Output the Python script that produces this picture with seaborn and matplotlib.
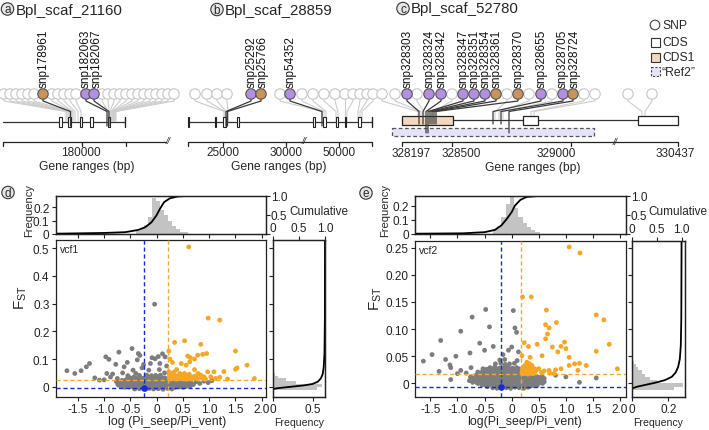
import numpy as np
import pandas as pd
import matplotlib
matplotlib.use("Agg")
import matplotlib.pyplot as plt
from matplotlib.patches import Rectangle, Circle
import seaborn as sns

sns.set_theme(style="ticks")
plt.rcParams['font.family'] = ['Liberation Sans', 'DejaVu Sans']
plt.rcParams.update({
    'axes.linewidth': 0.9, 'axes.edgecolor': '#222222',
    'xtick.major.size': 3, 'ytick.major.size': 3,
    'xtick.major.width': 0.8, 'ytick.major.width': 0.8,
    'xtick.labelsize': 8.5, 'ytick.labelsize': 8.5,
    'xtick.major.pad': 1.5, 'ytick.major.pad': 1.5,
    'xtick.color': '#222222', 'ytick.color': '#222222',
})

# ------------------------------------------------------------------ data
# gene panels (track positions read from the schematic)
a_title = "Bpl_scaf_21160"
a_hi_labels = ["snp178961", "snp182063", "snp182067"]
a_hi_kind = ["O", "P", "P"]
a_hi_head = [43, 86, 94]
a_hi_label_x = [43, 84.5, 95.5]
a_hi_site = [70.5, 107, 109]
a_grey_head = [4, 10, 16, 22, 28, 34, 52, 58, 64, 70, 76, 102, 108, 114, 120,
               126, 132, 138, 144, 150, 156, 162, 168, 174]
a_grey_site = [66, 67, 68, 69, 70, 71, 72, 73, 75, 78, 81, 108, 109, 110, 111,
               112, 112, 113, 113, 114, 114, 115, 115, 116]
a_exon_start = [59.3, 68.3, 80.0, 90.0, 108.3]
a_exon_end = [62.0, 70.7, 81.7, 92.7, 110.0]
a_gene_span = [3, 124.7]
a_ticks = [2.7, 82.3, 125.7]
a_ticklabels = ["", "180000", ""]
a_ticklabel_x = [2.7, 81, 125.7]
a_axis_span = [2.7, 166]
a_break = 168

b_title = "Bpl_scaf_28859"
b_hi_labels = ["snp25292", "snp25766", "snp54352"]
b_hi_kind = ["P", "O", "P"]
b_hi_head = [251, 261, 290]
b_hi_label_x = [250.5, 261.5, 290]
b_hi_site = [226, 227.5, 322]
b_grey_head = [195, 207, 217, 227, 280, 302, 313, 324, 335, 345, 353, 360, 367, 373]
b_grey_site = [224, 225, 226, 228, 322, 324, 326, 336, 338, 345, 347, 358, 360, 362]
b_exon_start = [187.5, 214.5, 223.0, 236.5, 313.0, 323.0, 336.0, 344.5, 358.0]
b_exon_end = [189.0, 216.0, 226.0, 238.7, 315.0, 325.5, 337.5, 346.0, 361.0]
b_gene_span = [188, 371.7]
b_ticks = [188, 223, 286, 339, 372]
b_ticklabels = ["", "25000", "30000", "50000", ""]
b_ticklabel_x = [188, 223, 286, 339, 372]
b_axis_span = [188, 372]
b_break = 304

c_title = "Bpl_scaf_52780"
c_hi_labels = ["snp328303", "snp328324", "snp328342", "snp328347", "snp328351",
               "snp328354", "snp328361", "snp328370", "snp328655", "snp328705",
               "snp328724"]
c_hi_kind = ["P", "P", "P", "P", "P", "P", "O", "O", "P", "P", "O"]
c_hi_head = [407, 429, 441, 463, 474, 485, 496, 518, 541, 563, 573]
c_hi_label_x = [407, 429, 441, 463, 474, 485, 496, 518, 541, 562, 573.5]
c_hi_site = [419, 423, 426, 428, 430, 432, 434, 436, 493, 501, 509]
c_hi_end = [125, 125, 134, 134, 125, 125, 125, 125, 125, 125, 134]
c_grey_head = [382, 395, 417, 452, 507, 529, 552, 584, 595, 628, 652]
c_grey_site = [418, 421, 424, 433, 495, 499, 503, 531, 534, 642, 645]
c_cds1 = [402, 453]
c_cds = [[523, 538], [638, 678]]
c_ref2 = [392, 594]
c_gene_span = [402, 678]
c_ticks = [402, 452, 571, 678]
c_ticklabels = ["328197", "328500", "329000", "330437"]
c_ticklabel_x = [411.5, 461.5, 556.5, 675]
c_axis_span = [402, 678]
c_break = 615

# scatter panel d (vcf1): scattered points
d_grey_x = [-0.04, -0.47, -0.72, -0.97, -1.28, -1.34, -1.44, -1.56, -1.71, -1.18, -1.09,
            -0.91, -0.78, -0.56, -0.35, -0.32, -0.37, -0.25, -0.09, -0.03, 0.03, 0.11,
            0.16, 0.06, -0.12, -0.95, -0.84, -0.65, -0.55, -1.00, -0.75, -0.45, -0.15,
            0.05, 0.15, -0.62, -0.28, 0.19, 0.75, 0.82, 0.90, 0.98, 1.05, -0.88, -0.40]
d_grey_y = [0.298, 0.138, 0.125, 0.108, 0.084, 0.072, 0.058, 0.048, 0.058, 0.032, 0.024,
            0.099, 0.081, 0.088, 0.120, 0.113, 0.097, 0.080, 0.105, 0.101, 0.109, 0.119,
            0.108, 0.084, 0.084, 0.048, 0.046, 0.050, 0.040, 0.025, 0.030, 0.060, 0.060,
            0.062, 0.050, 0.072, 0.068, 0.075, 0.018, 0.012, 0.020, 0.015, 0.022, 0.035, 0.048]
# dense core of the grey cloud
d_core_x = [-0.42, -0.33, -0.21, -0.14, -0.06, 0.03, 0.12, 0.21, 0.29,
            -0.61, -0.52, -0.44, -0.37, -0.29, -0.22, -0.16, -0.08, -0.01, 0.06, 0.13,
            0.20, 0.27, 0.35, 0.43, 0.50,
            -0.66, -0.55, -0.47, -0.39, -0.31, -0.24, -0.17, -0.10, -0.03, 0.04, 0.10,
            0.18, 0.25, 0.33, 0.41, 0.48, 0.56, 0.64,
            -0.72, -0.64, -0.57, -0.49, -0.41, -0.34, -0.26, -0.19, -0.11, -0.04, 0.04,
            0.11, 0.17, 0.24, 0.31, 0.38, 0.46, 0.53, 0.61,
            -0.74, -0.64, -0.56, -0.49, -0.42, -0.34, -0.27, -0.19, -0.12, -0.04, 0.04,
            0.12, 0.19, 0.26, 0.33, 0.40, 0.48, 0.55, 0.62, 0.70,
            -0.68, -0.60, -0.53, -0.45, -0.38, -0.30, -0.23, -0.15, -0.07, 0.00, 0.08,
            0.15, 0.22, 0.29, 0.36, 0.44, 0.51, 0.58, 0.66,
            -0.71, -0.59, -0.51, -0.43, -0.36, -0.28, -0.21, -0.13, -0.06, 0.02, 0.09,
            0.16, 0.24, 0.31, 0.38, 0.45, 0.53, 0.60,
            -0.77, -0.62, -0.55, -0.47, -0.40, -0.32, -0.25, -0.18, -0.10, -0.03, 0.05,
            0.12, 0.19, 0.27, 0.34, 0.41, 0.49, 0.56, 0.64,
            -0.66, -0.54, -0.46, -0.38, -0.31, -0.23, -0.15, -0.08, 0.00, 0.07, 0.14, 0.20,
            -0.58, -0.50, -0.43, -0.35, -0.27, -0.20, -0.12, -0.05, 0.02, 0.09, 0.16,
            -0.48, -0.39, -0.25, -0.17, -0.09, -0.03, 0.05, 0.12, 0.19,
            -0.52, -0.44, -0.30, -0.22, -0.14, -0.07, 0.01, 0.08, 0.15,
            -0.33, -0.19, -0.10, -0.02, 0.07]
d_core_y = [-0.008, -0.007, -0.009, -0.006, -0.008, -0.007, -0.009, -0.006, -0.008,
            -0.002, -0.001, -0.003, -0.002, 0.000, -0.002, -0.001, -0.003, -0.002, 0.000, -0.002,
            -0.001, -0.003, -0.002, -0.001, -0.002,
            0.002, 0.001, 0.003, 0.002, 0.001, 0.003, 0.002, 0.001, 0.003, 0.002, 0.001,
            0.003, 0.002, 0.001, 0.003, 0.002, 0.001, 0.003,
            0.005, 0.006, 0.004, 0.005, 0.006, 0.004, 0.005, 0.006, 0.004, 0.005, 0.006,
            0.004, 0.005, 0.006, 0.004, 0.005, 0.006, 0.004, 0.005,
            0.009, 0.008, 0.010, 0.009, 0.008, 0.010, 0.009, 0.008, 0.010, 0.009, 0.008,
            0.010, 0.009, 0.008, 0.010, 0.009, 0.008, 0.010, 0.009, 0.008,
            0.012, 0.011, 0.013, 0.012, 0.011, 0.013, 0.012, 0.011, 0.013, 0.012, 0.011,
            0.013, 0.012, 0.011, 0.013, 0.012, 0.011, 0.013, 0.012,
            0.016, 0.015, 0.017, 0.016, 0.015, 0.017, 0.016, 0.015, 0.017, 0.016, 0.015,
            0.017, 0.016, 0.015, 0.017, 0.016, 0.015, 0.017,
            0.019, 0.020, 0.018, 0.019, 0.020, 0.018, 0.019, 0.020, 0.018, 0.019, 0.020,
            0.018, 0.019, 0.020, 0.018, 0.019, 0.020, 0.018, 0.019,
            0.023, 0.022, 0.024, 0.023, 0.022, 0.024, 0.023, 0.022, 0.024, 0.023, 0.022, 0.024,
            0.026, 0.027, 0.025, 0.026, 0.027, 0.025, 0.026, 0.027, 0.025, 0.026, 0.027,
            0.030, 0.031, 0.029, 0.030, 0.031, 0.029, 0.030, 0.031, 0.029,
            0.033, 0.034, 0.032, 0.033, 0.034, 0.032, 0.033, 0.034, 0.032,
            0.041, 0.042, 0.040, 0.041, 0.042]
d_orange_x = [0.61, 0.98, 1.20, 0.53, 0.34, 0.23, 0.84, 1.50, 0.95, 0.875, 0.78, 0.59, 0.64,
              0.63, 0.72, 1.72, 1.50, 1.53, 0.97, 1.09, 1.28, 1.03, 1.86, 0.56, 0.47, 0.38,
              0.44, 0.53, 0.72, 0.79, 0.84, 0.90, 0.78, 0.69, 0.25, 0.30,
              0.24, 0.27, 0.31, 0.35, 0.29, 0.40, 0.45, 0.50, 0.55, 0.60, 0.65, 0.24, 0.33,
              0.38, 0.48, 0.58, 0.23, 0.42, 0.36, 0.26, 0.52, 0.62, 0.70, 0.74, 0.86, 0.93,
              1.12, 1.20, 1.35, 0.28, 0.33, 0.39, 0.44, 0.49, 0.54, 0.57, 0.63, 0.67, 0.25,
              0.31, 0.46]
d_orange_y = [0.505, 0.248, 0.241, 0.166, 0.160, 0.129, 0.153, 0.129, 0.120, 0.117, 0.114,
              0.111, 0.105, 0.090, 0.100, 0.078, 0.063, 0.068, 0.054, 0.054, 0.055, 0.036,
              0.030, 0.078, 0.084, 0.062, 0.048, 0.048, 0.062, 0.048, 0.042, 0.036, 0.030,
              0.036, 0.100, 0.088,
              0.030, 0.036, 0.031, 0.040, 0.046, 0.033, 0.029, 0.037, 0.031, 0.034, 0.029,
              0.043, 0.053, 0.028, 0.043, 0.041, 0.055, 0.038, 0.034, 0.028, 0.029, 0.045,
              0.030, 0.038, 0.032, 0.028, 0.030, 0.034, 0.028, 0.033, 0.029, 0.036, 0.042,
              0.032, 0.038, 0.027, 0.036, 0.033, 0.048, 0.040, 0.035]
d_vline = [-0.25, 0.22]
d_hline = [-0.005, 0.026]

# scatter panel e (vcf2)
e_grey_x = [-0.48, 0.03, -0.73, -0.41, -0.94, 0.06, 0.09, -1.31, -0.59, -1.47, -1.63, -1.22,
            -1.03, -0.77, -0.50, -0.34, -0.06, 0.00, 0.125, -0.16, -1.14, -1.125, -1.34,
            -1.125, -0.94, -0.84, -0.75, -0.625, -0.53, 1.56, 1.25, 1.00, 0.81, -1.00]
e_grey_y = [0.136, 0.134, 0.122, 0.104, 0.096, 0.102, 0.094, 0.079, 0.074, 0.053, 0.041, 0.044,
            0.050, 0.056, 0.061, 0.068, 0.061, 0.067, 0.058, 0.053, 0.034, 0.029, 0.022,
            0.007, 0.024, 0.019, 0.029, 0.021, 0.027, 0.010, 0.002, 0.012, 0.015, 0.018]
e_core_x = [-0.35, -0.27, -0.19, -0.10, -0.02, 0.06, 0.14, 0.22, 0.30,
            -0.45, -0.31, -0.23, -0.14, -0.06, 0.02, 0.10, 0.18, 0.26, 0.35,
            -0.55, -0.47, -0.40, -0.32, -0.24, -0.16, -0.09, -0.01, 0.07, 0.15, 0.23, 0.31,
            0.39, 0.47,
            -0.62, -0.52, -0.44, -0.36, -0.28, -0.20, -0.13, -0.05, 0.03, 0.11, 0.17, 0.25,
            0.33, 0.41, 0.49, 0.57,
            -0.72, -0.64, -0.56, -0.48, -0.41, -0.33, -0.25, -0.18, -0.10, -0.02, 0.05, 0.13,
            0.21, 0.29, 0.37, 0.45, 0.53, 0.60,
            -0.78, -0.64, -0.56, -0.48, -0.40, -0.32, -0.25, -0.17, -0.09, -0.01, 0.06, 0.14,
            0.22, 0.30, 0.38, 0.46, 0.54,
            -0.68, -0.60, -0.52, -0.44, -0.36, -0.29, -0.21, -0.13, -0.05, 0.02, 0.10, 0.18,
            0.26, 0.34, 0.42, 0.50, 0.58,
            -0.72, -0.59, -0.51, -0.43, -0.35, -0.27, -0.20, -0.12, -0.04, 0.04, 0.12, 0.20,
            0.28, 0.36, 0.44, 0.52, 0.60,
            -0.76, -0.63, -0.55, -0.47, -0.39, -0.31, -0.24, -0.16, -0.08, 0.00, 0.08, 0.16,
            0.24, 0.32, 0.40, 0.48, 0.56,
            -0.66, -0.55, -0.46, -0.38, -0.30, -0.22, -0.15, -0.07, 0.01, 0.09, 0.16,
            -0.60, -0.50, -0.42, -0.34, -0.26, -0.19, -0.11, -0.03, 0.05, 0.12,
            -0.56, -0.48, -0.40, -0.32, -0.24, -0.17, -0.09, -0.01, 0.07, 0.14,
            -0.52, -0.44, -0.36, -0.28, -0.21, -0.13, -0.05, 0.03, 0.10,
            -0.46, -0.35, -0.27, -0.19, -0.11, -0.03, 0.05, 0.13,
            -0.40, -0.31, -0.23, -0.15, -0.07, 0.01, 0.09,
            -0.30, -0.20, -0.12, -0.04, 0.05,
            -0.22, -0.13, 0.10]
e_core_y = [-0.008, -0.009, -0.007, -0.008, -0.009, -0.007, -0.008, -0.009, -0.007,
            -0.006, -0.005, -0.006, -0.005, -0.006, -0.005, -0.006, -0.005, -0.006, -0.005,
            -0.003, -0.004, -0.002, -0.003, -0.004, -0.002, -0.003, -0.004, -0.002, -0.003,
            -0.004, -0.002, -0.003, -0.004,
            0.000, -0.001, 0.001, 0.000, -0.001, 0.001, 0.000, -0.001, 0.001, 0.000, -0.001,
            0.001, 0.000, -0.001, 0.001, 0.000,
            0.002, 0.001, 0.003, 0.002, 0.001, 0.003, 0.002, 0.001, 0.003, 0.002, 0.001, 0.003,
            0.002, 0.001, 0.003, 0.002, 0.001, 0.003,
            0.005, 0.004, 0.006, 0.005, 0.004, 0.006, 0.005, 0.004, 0.006, 0.005, 0.004, 0.006,
            0.005, 0.004, 0.006, 0.005, 0.004,
            0.007, 0.008, 0.006, 0.007, 0.008, 0.006, 0.007, 0.008, 0.006, 0.007, 0.008, 0.006,
            0.007, 0.008, 0.006, 0.007, 0.008,
            0.010, 0.009, 0.011, 0.010, 0.009, 0.011, 0.010, 0.009, 0.011, 0.010, 0.009, 0.011,
            0.010, 0.009, 0.011, 0.010, 0.009,
            0.012, 0.013, 0.011, 0.012, 0.013, 0.011, 0.012, 0.013, 0.011, 0.012, 0.013, 0.011,
            0.012, 0.013, 0.011, 0.012, 0.013,
            0.015, 0.014, 0.016, 0.015, 0.014, 0.016, 0.015, 0.014, 0.016, 0.015, 0.014,
            0.017, 0.018, 0.016, 0.017, 0.018, 0.016, 0.017, 0.018, 0.016, 0.017,
            0.020, 0.021, 0.019, 0.020, 0.021, 0.019, 0.020, 0.021, 0.019, 0.020,
            0.023, 0.024, 0.022, 0.023, 0.024, 0.022, 0.023, 0.024, 0.022,
            0.026, 0.027, 0.025, 0.026, 0.027, 0.025, 0.026, 0.027,
            0.029, 0.030, 0.028, 0.029, 0.030, 0.028, 0.029,
            0.036, 0.037, 0.035, 0.036, 0.037,
            0.043, 0.044, 0.042]
e_orange_x = [1.06, 1.26, 0.20, 0.36, 0.64, 1.56, 1.70, 0.625, 0.69, 0.825, 0.66, 0.625,
              0.975, 1.80, 0.23, 0.47, 0.31, 0.75, 0.91, 1.00, 1.56, 0.85, 0.56, 0.34, 1.06,
              0.19, 1.16, 1.95, 1.22, 1.06, 0.81, 0.91, 0.69, 0.50, 0.375, 0.28, 1.375, 1.25,
              0.19, 0.22, 0.25, 0.28, 0.21, 0.31, 0.34, 0.24, 0.37, 0.40, 0.30, 0.27, 0.43,
              0.20, 0.33, 0.46, 0.55, 0.60, 0.70, 0.78, 0.21, 0.24, 0.27, 0.30, 0.33, 0.36,
              0.39, 0.23, 0.26, 0.42]
e_orange_y = [0.251, 0.240, 0.159, 0.159, 0.135, 0.126, 0.117, 0.108, 0.102, 0.112, 0.091,
              0.082, 0.076, 0.072, 0.075, 0.072, 0.068, 0.067, 0.068, 0.064, 0.059, 0.058,
              0.051, 0.048, 0.048, 0.051, 0.036, 0.027, 0.024, 0.033, 0.025, 0.027, 0.024,
              0.027, 0.033, 0.039, 0.033, 0.037,
              0.020, 0.024, 0.019, 0.027, 0.030, 0.021, 0.025, 0.033, 0.019, 0.023, 0.031,
              0.018, 0.021, 0.026, 0.036, 0.025, 0.020, 0.023, 0.019, 0.018, 0.018, 0.022,
              0.029, 0.017, 0.020, 0.028, 0.018, 0.028, 0.025, 0.027]
e_vline = [-0.19, 0.175]
e_hline = [-0.0067, 0.0165]

# marginal histograms (bin edges, frequencies) and cumulative curves
d_top_edges = [-0.399, -0.323, -0.247, -0.171, -0.095, -0.019, 0.057, 0.133, 0.209, 0.285,
               0.361, 0.437, 0.513, 0.589]
d_top_freq = [0.02, 0.04, 0.065, 0.125, 0.27, 0.25, 0.18, 0.14, 0.10, 0.06, 0.035, 0.015, 0.01]
d_top_cum_x = [-1.93, -0.99, -0.60, -0.35, -0.22, -0.10, -0.005, 0.06, 0.14, 0.25, 0.40, 0.65, 2.08]
d_top_cum_y = [0.0, 0.02, 0.04, 0.10, 0.17, 0.30, 0.48, 0.65, 0.83, 0.93, 0.98, 1.0, 1.0]
d_right_edges = [-0.010, 0.000, 0.010, 0.020, 0.030, 0.040, 0.050, 0.060, 0.070]
d_right_freq = [0.55, 0.61, 0.29, 0.17, 0.06, 0.03, 0.015, 0.01]
d_right_cum_fst = [-0.008, -0.005, 0.0, 0.005, 0.010, 0.018, 0.030, 0.045, 0.070, 0.120, 0.250, 0.530]
d_right_cum = [0.0, 0.10, 0.35, 0.60, 0.76, 0.86, 0.92, 0.955, 0.975, 0.99, 0.998, 1.0]

e_top_edges = [-0.345, -0.267, -0.189, -0.111, -0.033, 0.045, 0.123, 0.201, 0.279, 0.357,
               0.435, 0.513]
e_top_freq = [0.035, 0.055, 0.12, 0.21, 0.26, 0.18, 0.12, 0.075, 0.05, 0.025, 0.01]
e_top_cum_x = [-1.78, -0.90, -0.50, -0.31, -0.19, -0.09, 0.0, 0.06, 0.16, 0.28, 0.56, 2.10]
e_top_cum_y = [0.0, 0.01, 0.04, 0.10, 0.22, 0.39, 0.57, 0.74, 0.89, 0.97, 1.0, 1.0]
e_right_edges = [-0.012, -0.006, 0.0, 0.006, 0.012, 0.018, 0.024, 0.030, 0.036, 0.042, 0.048]
e_right_freq = [0.23, 0.28, 0.14, 0.10, 0.072, 0.055, 0.033, 0.02, 0.012, 0.006]
e_right_cum_fst = [-0.009, -0.006, -0.002, 0.002, 0.006, 0.012, 0.020, 0.030, 0.045, 0.070, 0.120, 0.260]
e_right_cum = [0.0, 0.10, 0.30, 0.50, 0.66, 0.80, 0.88, 0.93, 0.965, 0.985, 0.995, 1.0]

# ------------------------------------------------------------------ figure
W, H = 709, 431
fig = plt.figure(figsize=(W / 100, H / 100), dpi=100)
bg = fig.add_axes([0, 0, 1, 1], zorder=0)
bg.set_xlim(0, W)
bg.set_ylim(H, 0)
bg.axis('off')

P_COL = '#b38fe4'
O_COL = '#c9935e'
GREY_EDGE = '#c6c6c6'
DARK = '#3a3a3a'
HEAD_Y, HEAD_R = 95, 5.2


def panel_badge(x, y, letter):
    bg.add_patch(Circle((x, y), 6.2, facecolor='#e6e6e6', edgecolor='#333333', lw=0.8, zorder=5))
    bg.text(x, y + 0.3, letter, ha='center', va='center', fontsize=8.5, zorder=6)


def gene_panel(grey_head, grey_site, hi_head, hi_site, hi_kind, hi_labels, hi_label_x,
               gene_y, hi_end=None):
    for hx, sx in zip(grey_head, grey_site):
        bg.plot([hx, hx, sx, sx], [HEAD_Y + HEAD_R, HEAD_Y + 7, 112.5, gene_y - 1],
                color='#cdcdcd', lw=0.8, zorder=1)
    for hx in grey_head:
        bg.add_patch(Circle((hx, HEAD_Y), HEAD_R, facecolor='white', edgecolor=GREY_EDGE,
                            lw=0.8, zorder=2))
    if hi_end is None:
        hi_end = [gene_y + 4] * len(hi_head)
    for hx, sx, en in zip(hi_head, hi_site, hi_end):
        bg.plot([hx, hx, sx, sx], [HEAD_Y + HEAD_R, HEAD_Y + 7, 112.5, en],
                color=DARK, lw=0.9, zorder=6)
    for hx, k in zip(hi_head, hi_kind):
        bg.add_patch(Circle((hx, HEAD_Y), HEAD_R, facecolor=P_COL if k == 'P' else O_COL,
                            edgecolor='#555555', lw=0.8, zorder=7))
    for lx, lab in zip(hi_label_x, hi_labels):
        bg.text(lx + 0.8, HEAD_Y - 6.5, lab, rotation=90, ha='center', va='bottom',
                fontsize=8.5, color='#111111', zorder=7)


def scale_bar(span, ticks, labels, label_x, brk, y, title_x):
    bg.plot(span, [y, y], color='#222222', lw=0.9)
    for t in ticks:
        bg.plot([t, t], [y, y + 4], color='#222222', lw=0.9)
    for lx, lab in zip(label_x, labels):
        if lab:
            bg.text(lx, y + 11, lab, ha='center', va='center', fontsize=8.5)
    bg.text(brk, y - 0.5, '//', ha='center', va='center', fontsize=6.5, style='italic')
    bg.text(title_x, y + 25, 'Gene ranges (bp)', ha='center', va='center', fontsize=8.7)


def exons(starts, ends, gene_y, cap_x):
    for s, e in zip(starts, ends):
        bg.add_patch(Rectangle((s, gene_y - 5), e - s, 10, facecolor='white',
                               edgecolor='#222222', lw=0.8, zorder=4))
    bg.plot([cap_x, cap_x], [gene_y - 5, gene_y + 5], color='#222222', lw=1.0, zorder=4)


# panel a
panel_badge(7.5, 10, 'a')
bg.text(15.5, 10.5, a_title, ha='left', va='center', fontsize=10.8)
gene_panel(a_grey_head, a_grey_site, a_hi_head, a_hi_site, a_hi_kind, a_hi_labels,
           a_hi_label_x, 123)
bg.plot(a_gene_span, [123, 123], color='#333333', lw=0.9, zorder=3)
exons(a_exon_start, a_exon_end, 123, a_gene_span[1])
scale_bar(a_axis_span, a_ticks, a_ticklabels, a_ticklabel_x, a_break, 142.5, 87)

# panel b
panel_badge(217, 10.5, 'b')
bg.text(225, 10.5, b_title, ha='left', va='center', fontsize=10.8)
gene_panel(b_grey_head, b_grey_site, b_hi_head, b_hi_site, b_hi_kind, b_hi_labels,
           b_hi_label_x, 123)
bg.plot(b_gene_span, [123, 123], color='#333333', lw=0.9, zorder=3)
exons(b_exon_start, b_exon_end, 123, b_gene_span[1])
scale_bar(b_axis_span, b_ticks, b_ticklabels, b_ticklabel_x, b_break, 142.5, 279)

# panel c
panel_badge(403, 9.5, 'c')
bg.text(411, 9.5, c_title, ha='left', va='center', fontsize=10.8)
gene_panel(c_grey_head, c_grey_site, c_hi_head, c_hi_site, c_hi_kind, c_hi_labels,
           c_hi_label_x, 121, hi_end=c_hi_end)
bg.plot(c_gene_span, [121, 121], color='#333333', lw=0.9, zorder=3)
bg.add_patch(Rectangle((c_cds1[0], 116.5), c_cds1[1] - c_cds1[0], 9, facecolor='#f4d8bd',
                       edgecolor='#222222', lw=0.9, zorder=4))
for s, e in c_cds:
    bg.add_patch(Rectangle((s, 116.5), e - s, 9, facecolor='white', edgecolor='#222222',
                           lw=0.9, zorder=4))
bg.add_patch(Rectangle((c_ref2[0], 128.5), c_ref2[1] - c_ref2[0], 8.5, facecolor='#e4e3f8',
                       edgecolor='#555555', lw=0.9, ls=(0, (3, 2)), zorder=3))
scale_bar(c_axis_span, c_ticks, c_ticklabels, c_ticklabel_x, c_break, 143.3, 533)

# legend of panel c
bg.add_patch(Circle((655, 26), 4.8, facecolor='white', edgecolor='#444444', lw=0.8))
bg.add_patch(Rectangle((650.5, 39), 9, 9, facecolor='white', edgecolor='#333333', lw=0.8))
bg.add_patch(Rectangle((650.5, 53.5), 9, 9, facecolor='#f4d8bd', edgecolor='#333333', lw=0.8))
bg.add_patch(Rectangle((650.5, 68), 9, 9, facecolor='#e4e3f8', edgecolor='#444444', lw=0.8,
                       ls=(0, (2, 1.5))))
for yy, lab in zip([26, 43.5, 58, 72.5], ['SNP', 'CDS', 'CDS1', '\u201cRef2\u201d']):
    bg.text(662, yy, lab, ha='left', va='center', fontsize=8.7)


# ------------------------------------------------------------------ scatter panels
def box(x0, y0, x1, y1):
    return [x0 / W, 1 - y1 / H, (x1 - x0) / W, (y1 - y0) / H]


def scatter_panel(main_box, top_box, right_box, gx, gy, ox, oy, vline, hline, xlim, ylim,
                  yticks, yticklabels, tag, top_edges, top_freq, top_cx, top_cy, top_ylim,
                  r_edges, r_freq, r_fst, r_cum, r_xlim, r_xticks, r_xticklabels, cum_xlim):
    ax = fig.add_axes(box(*main_box))
    df = pd.DataFrame({'x': list(gx) + list(ox), 'y': list(gy) + list(oy),
                       'g': ['low'] * len(gx) + ['high'] * len(ox)})
    sns.scatterplot(data=df, x='x', y='y', hue='g',
                    palette={'low': '#7d7d7d', 'high': '#f6a623'},
                    s=12, linewidth=0, legend=False, ax=ax, zorder=2)
    ax.axvline(vline[0], color='#1a2ad6', lw=1.0, ls=(0, (3, 2)), zorder=3)
    ax.axhline(hline[0], color='#1a2ad6', lw=1.0, ls=(0, (3, 2)), zorder=3)
    ax.axvline(vline[1], color='#f2a93b', lw=1.0, ls=(0, (3, 2)), zorder=3)
    ax.axhline(hline[1], color='#f2a93b', lw=1.0, ls=(0, (3, 2)), zorder=3)
    ax.scatter([vline[0]], [hline[0]], s=14, color='#1a2ad6', zorder=4)
    ax.set_xlim(*xlim)
    ax.set_ylim(*ylim)
    xt = [-1.5, -1.0, -0.5, 0, 0.5, 1.0, 1.5, 2.0]
    ax.set_xticks(xt)
    ax.set_xticklabels(['-1.5', '-1.0', '-0.5', '0', '0.5', '1.0', '1.5', '2.0'])
    ax.set_yticks(yticks)
    ax.set_yticklabels(yticklabels)
    ax.set_xlabel('')
    ax.set_ylabel('')
    ax.text(0.02, 0.975, tag, transform=ax.transAxes, ha='left', va='top', fontsize=7.5)

    axt = fig.add_axes(box(*top_box))
    centers = [(top_edges[i] + top_edges[i + 1]) / 2 for i in range(len(top_freq))]
    sns.histplot(x=centers, weights=top_freq, bins=top_edges, ax=axt, color='#c3c3c3',
                 alpha=1, linewidth=0)
    axt.set_xlim(*xlim)
    axt.set_ylim(*top_ylim)
    axt.set_xticks(xt)
    axt.set_xticklabels([])
    axt.set_yticks([0, 0.1, 0.2])
    axt.set_yticklabels(['0', '0.1', '0.2'])
    axt.set_ylabel('')
    axt2 = axt.twinx()
    sns.lineplot(x=top_cx, y=top_cy, ax=axt2, color='black', lw=1.3)
    axt2.set_ylim(0, 1.0)
    axt2.set_yticks([0, 0.5, 1.0])
    axt2.set_yticklabels(['', '0.5', '1.0'])
    axt2.tick_params(axis='y', pad=0.8)
    axt2.set_ylabel('')
    for s in ['top', 'right']:
        axt.spines[s].set_visible(True)
        axt2.spines[s].set_visible(True)

    axr = fig.add_axes(box(*right_box))
    rc = [(r_edges[i] + r_edges[i + 1]) / 2 for i in range(len(r_freq))]
    sns.histplot(y=rc, weights=r_freq, bins=r_edges, ax=axr, color='#c3c3c3', alpha=1,
                 linewidth=0)
    axr.set_ylim(*ylim)
    axr.set_xlim(*r_xlim)
    axr.set_yticks(yticks)
    axr.set_yticklabels([])
    axr.set_xticks(r_xticks)
    axr.set_xticklabels(r_xticklabels)
    axr.set_xlabel('')
    axr.set_ylabel('')
    axr2 = axr.twiny()
    sns.lineplot(x=r_cum, y=r_fst, ax=axr2, color='black', lw=1.3, sort=False,
                 estimator=None)
    axr2.set_xlim(*cum_xlim)
    axr2.set_xticks([0, 0.5, 1.0])
    axr2.set_xticklabels(['0', '0.5', '1.0'])
    axr2.set_xlabel('')
    axr2.set_ylabel('')
    axr2.set_ylim(*ylim)
    for a in (ax, axr, axr2):
        for s in a.spines.values():
            s.set_visible(True)
    return ax


scatter_panel((55.7, 241, 265.7, 398), (55.7, 196.7, 265.7, 234.7), (272.7, 241, 325, 398),
              d_grey_x + d_core_x, d_grey_y + d_core_y, d_orange_x, d_orange_y,
              d_vline, d_hline, (-1.924, 2.076), (-0.037, 0.530),
              [0, 0.1, 0.2, 0.3, 0.4, 0.5], ['0', '0.1', '0.2', '0.3', '0.4', '0.5'], 'vcf1',
              d_top_edges, d_top_freq, d_top_cum_x, d_top_cum_y, (0, 0.288),
              d_right_edges, d_right_freq, d_right_cum_fst, d_right_cum,
              (0, 0.649), [0, 0.5], ['0', '0.5'], (0, 1.0))

scatter_panel((415, 242, 625.7, 398), (415, 196.7, 625.7, 234.7), (632.3, 242, 685, 398),
              e_grey_x + e_core_x, e_grey_y + e_core_y, e_orange_x, e_orange_y,
              e_vline, e_hline, (-1.784, 2.103), (-0.025, 0.262),
              [0, 0.05, 0.10, 0.15, 0.20, 0.25], ['0', '0.05', '0.10', '0.15', '0.20', '0.25'],
              'vcf2',
              e_top_edges, e_top_freq, e_top_cum_x, e_top_cum_y, (0, 0.27),
              e_right_edges, e_right_freq, e_right_cum_fst, e_right_cum,
              (0, 0.293), [0, 0.2], ['0', '0.2'], (0, 1.07))

# axis titles and panel badges for d / e
panel_badge(8, 193.5, 'd')
panel_badge(366, 194, 'e')
for x0, lab in [(29, 'Frequency'), (385, 'Frequency')]:
    bg.text(x0, 211, lab, rotation=90, ha='center', va='center', fontsize=8)
bg.text(289, 212, 'Cumulative', ha='left', va='center', fontsize=8.5)
bg.text(648, 212, 'Cumulative', ha='left', va='center', fontsize=8.5)
bg.text(21, 298, r'F$_{\mathregular{ST}}$', rotation=90, ha='center', va='center', fontsize=11)
bg.text(376, 299, r'F$_{\mathregular{ST}}$', rotation=90, ha='center', va='center', fontsize=11)
bg.text(167, 422.5, 'log (Pi_seep/Pi_vent)', ha='center', va='center', fontsize=8.9)
bg.text(525, 422.5, 'log(Pi_seep/Pi_vent)', ha='center', va='center', fontsize=8.9)
bg.text(299, 423, 'Frequency', ha='center', va='center', fontsize=7.6)
bg.text(658, 423, 'Frequency', ha='center', va='center', fontsize=7.6)

fig.savefig('out.png', dpi=100)
